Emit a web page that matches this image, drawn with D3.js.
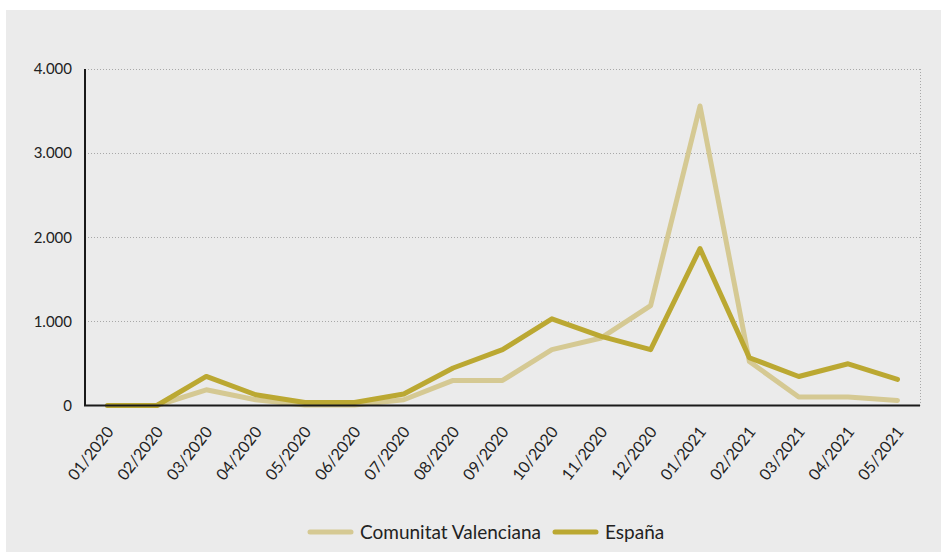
<!DOCTYPE html>
<html>
<head>
<meta charset="utf-8">
<script src="https://cdn.jsdelivr.net/npm/d3@7"></script>
<style>
  body { margin: 0; background: #fff; }
  svg text { font-family: Lato, "Open Sans", sans-serif; fill: #222; }
</style>
</head>
<body>
<script>
const months = ["01/2020", "02/2020", "03/2020", "04/2020", "05/2020", "06/2020", "07/2020", "08/2020", "09/2020",
  "10/2020", "11/2020", "12/2020", "01/2021", "02/2021", "03/2021", "04/2021", "05/2021"];

const valenciana = [0, 0, 187, 68, 5, 5, 68, 298, 298, 664, 803, 1188, 3560, 524, 100, 100, 60];
const espana = [0, 0, 346, 128, 36, 36, 136, 446, 664, 1030, 822, 664, 1865, 568, 345, 496, 310];

const yTicks = [0, 1000, 2000, 3000, 4000];

const seriesNames = ["Comunitat Valenciana", "España"];
const colors = ["#d5c993", "#bba832"];

const w = 943;
const h = 552;
const m = { top: 69, right: 23, bottom: 147, left: 85 };

const svg = d3.select("body").
append("svg").
attr("width", w).
attr("height", h);

// gray panel
svg.append("rect").
attr("x", 6).
attr("y", 10).
attr("width", w - 8).
attr("height", h - 10).
attr("fill", "#ebebeb");

const x = d3.scalePoint().
domain(months).
range([m.left, w - m.right]).
padding(0.456);

const y = d3.scaleLinear().
domain([0, 4000]).
range([h - m.bottom + 0.5, m.top]);

const fmt = d3.formatLocale({ decimal: ",", thousands: ".", grouping: [3], currency: ["", "€"] }).format(",");

// grid
svg.append("g").
selectAll("line").
data(yTicks.slice(1)).
enter().
append("line").
attr("x1", m.left).
attr("x2", w - m.right).
attr("y1", d => Math.round(y(d)) + 0.5).
attr("y2", d => Math.round(y(d)) + 0.5).
attr("stroke", "#a8a8a8").
attr("stroke-dasharray", "1,2");

svg.append("line").
attr("x1", w - m.right + 0.5).
attr("x2", w - m.right + 0.5).
attr("y1", y(4000)).
attr("y2", y(0)).
attr("stroke", "#a8a8a8").
attr("stroke-dasharray", "1,2");

// y labels
svg.append("g").
selectAll("text").
data(yTicks).
enter().
append("text").
attr("x", 72).
attr("y", d => y(d)).
attr("dy", "0.35em").
attr("text-anchor", "end").
style("font-size", "15px").
text(d => fmt(d));

// x labels
svg.append("g").
selectAll("text").
data(months).
enter().
append("text").
attr("text-anchor", "end").
attr("transform", d => "translate(" + (x(d) + 7) + "," + 432 + ") rotate(-52)").
style("font-size", "16px").
text(d => d);

// lines
const line = d3.line().
x((d, i) => x(months[i])).
y(d => y(d));

[valenciana, espana].forEach((s, i) => {
  svg.append("path").
  datum(s).
  attr("d", line).
  attr("fill", "none").
  attr("stroke", colors[i]).
  attr("stroke-width", 5).
  attr("stroke-linejoin", "round").
  attr("stroke-linecap", "round");
});

// axes
svg.append("line").
attr("x1", m.left).
attr("x2", m.left).
attr("y1", y(4000)).
attr("y2", y(0)).
attr("stroke", "#1a1a1a").
attr("stroke-width", 2);

svg.append("line").
attr("x1", m.left - 1).
attr("x2", w - m.right).
attr("y1", y(0)).
attr("y2", y(0)).
attr("stroke", "#1a1a1a").
attr("stroke-width", 2);

// legend
const legend = svg.append("g");
const legendX = [310, 555];
seriesNames.forEach((n, i) => {
  legend.append("line").
  attr("x1", legendX[i]).
  attr("x2", legendX[i] + 41).
  attr("y1", 532).
  attr("y2", 532).
  attr("stroke", colors[i]).
  attr("stroke-width", 5).
  attr("stroke-linecap", "round");
  legend.append("text").
  attr("x", legendX[i] + 50).
  attr("y", 532).
  attr("dy", "0.35em").
  style("font-size", "19px").
  text(n);
});
</script>
</body>
</html>
